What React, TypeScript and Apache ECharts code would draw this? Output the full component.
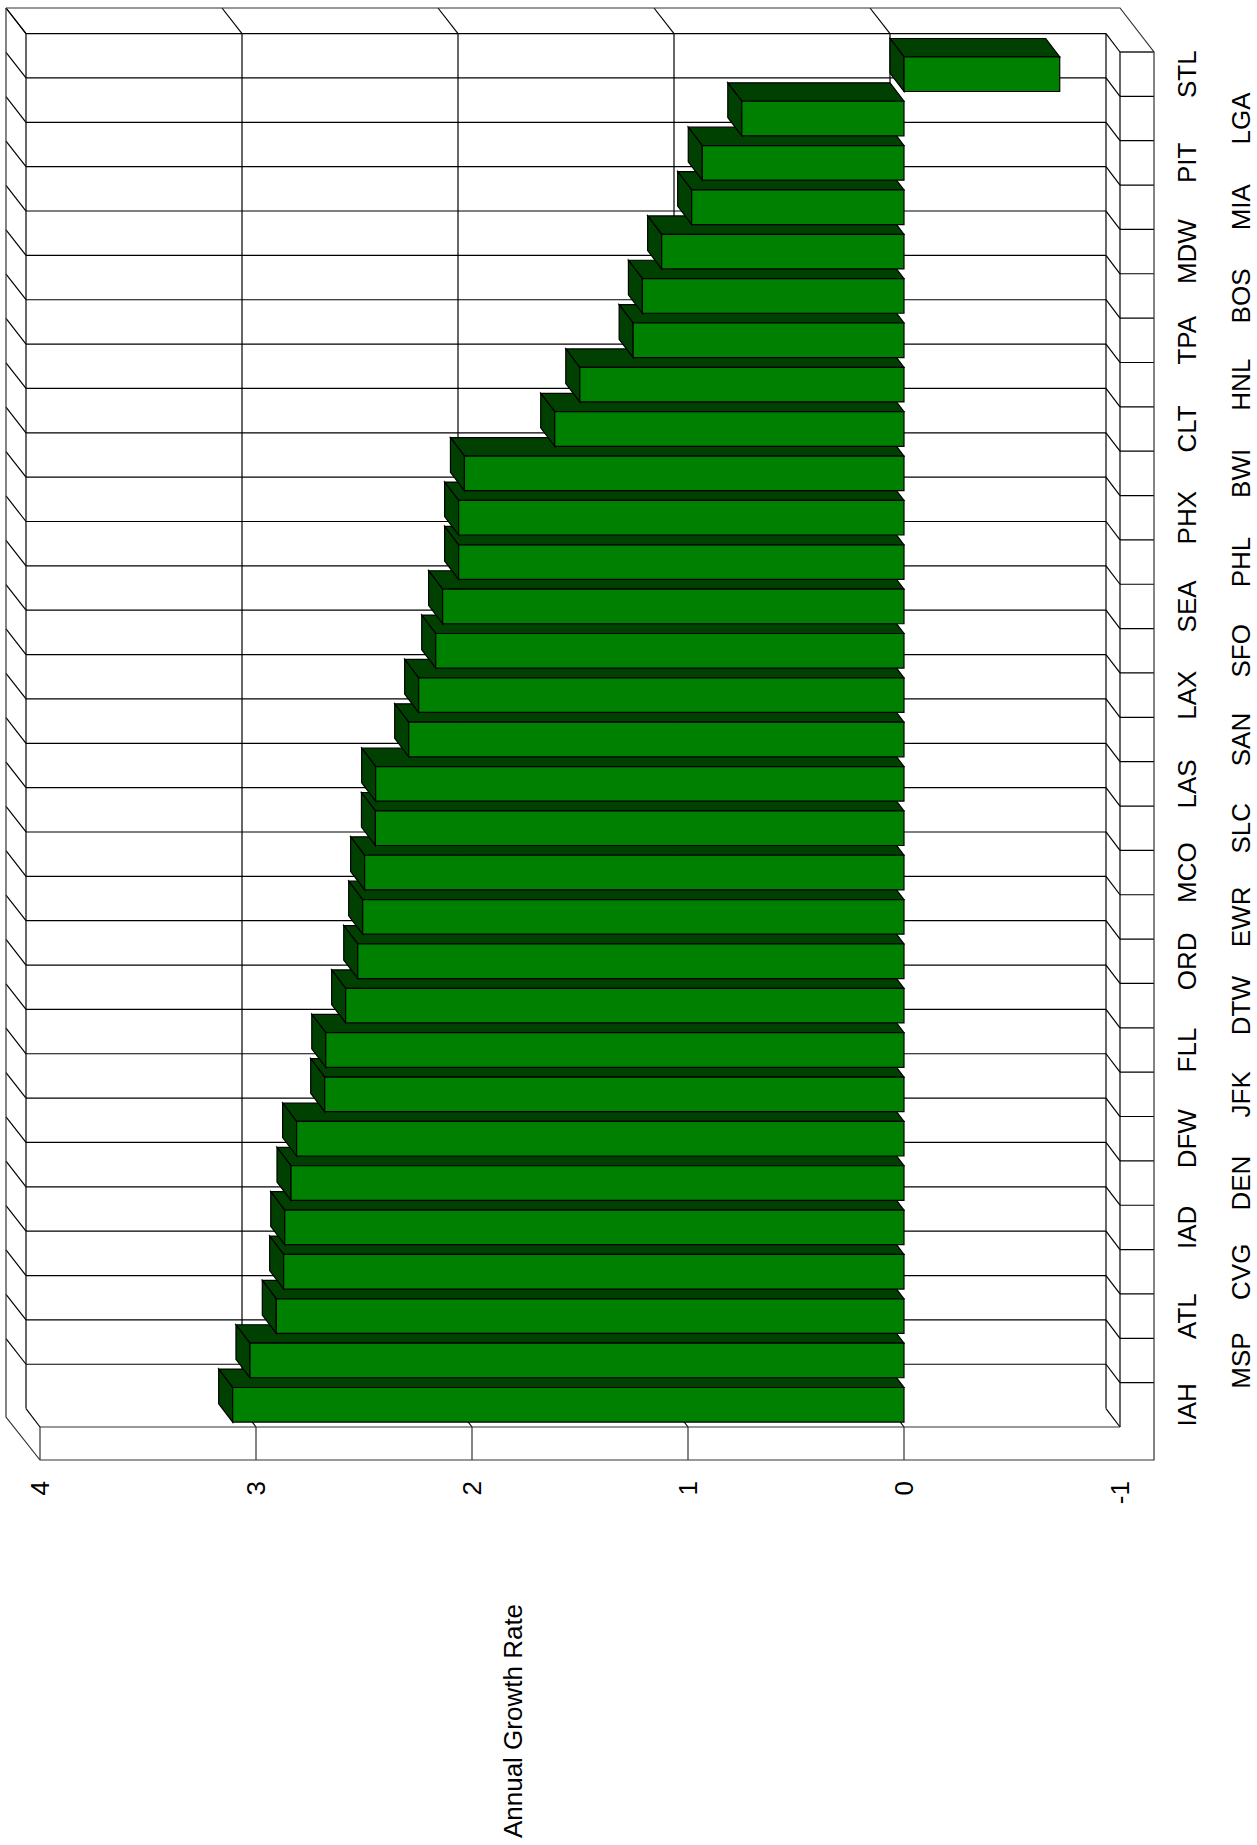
import React, { useEffect, useRef } from "react";
import * as echarts from "echarts";

const categories = ["STL","LGA","PIT","MIA","MDW","BOS","TPA","HNL","CLT","BWI","PHX","PHL","SEA","SFO","LAX","SAN","LAS","SLC","MCO","EWR","ORD","DTW","FLL","JFK","DFW","DEN","IAD","CVG","ATL","MSP","IAH"];
const growthRates = [-0.721,0.751,0.934,0.983,1.122,1.211,1.254,1.501,1.617,2.035,2.062,2.062,2.136,2.168,2.247,2.293,2.446,2.447,2.497,2.506,2.529,2.585,2.677,2.682,2.812,2.838,2.867,2.872,2.906,3.028,3.108];
const valueTicks = [4, 3, 2, 1, 0, -1];

const FONT = "'Liberation Sans', Arial, sans-serif";
const WALL_DX = 14;
const WALL_DY = 18.4;
const OUT_DX = 34;
const OUT_DY = 44;
const LINE = { stroke: "#000", lineWidth: 1.2, fill: "none" };
const OUTER = { stroke: "#333", lineWidth: 1.2, fill: "none" };

const seg = (x1: number, y1: number, x2: number, y2: number, style: any = LINE) => ({
  type: "line",
  shape: { x1, y1, x2, y2 },
  style,
  silent: true,
});

const poly = (points: number[][], fill: string) => ({
  type: "polygon",
  shape: { points },
  style: { fill, stroke: "#000", lineWidth: 1.2 },
  silent: true,
});

function renderBands(params: any, api: any) {
  const i = params.dataIndex;
  const cy = api.coord([0, i])[1];
  const band = api.size([0, 1])[1];
  const T = cy - band / 2;
  const L = api.coord([4, i])[0];
  const R = api.coord([-1, i])[0];
  return {
    type: "group",
    children: [
      seg(L - WALL_DX, T - WALL_DY, R - WALL_DX, T - WALL_DY),
      seg(L - OUT_DX, T - OUT_DY, L - WALL_DX, T - WALL_DY),
      seg(R - WALL_DX, T - WALL_DY, R, T),
      seg(R, T, R + OUT_DX, T),
    ],
  };
}

function renderTicks(params: any, api: any) {
  const t = api.value(0);
  const x = api.coord([t, 0])[0];
  const band = api.size([0, 1])[1];
  const T = api.coord([t, 0])[1] - band / 2;
  const B = api.coord([t, categories.length - 1])[1] + band / 2;
  const children: any[] = [
    seg(x - WALL_DX, T - WALL_DY, x - WALL_DX, B - WALL_DY),
    seg(x - WALL_DX, B - WALL_DY, x, B),
  ];
  if (t >= 0) {
    children.push(seg(x - OUT_DX, T - OUT_DY, x - WALL_DX, T - WALL_DY));
    children.push(seg(x, B, x, B + OUT_DY - 11, OUTER));
  }
  if (t === -1) {
    const L = api.coord([4, 0])[0];
    children.push(seg(x, T, x, B));
    children.push(seg(L, B, x, B, OUTER));
    children.push(seg(x, T, x + OUT_DX, T, OUTER));
    children.push({
      type: "polyline",
      shape: {
        points: [
          [L - OUT_DX, T - OUT_DY],
          [x, T - OUT_DY],
          [x + OUT_DX, T],
          [x + OUT_DX, B + OUT_DY - 11],
          [L, B + OUT_DY - 11],
          [L - OUT_DX, B - 10],
          [L - OUT_DX, T - OUT_DY],
        ],
      },
      style: OUTER,
      silent: true,
    });
  }
  return { type: "group", children };
}

function renderBars(params: any, api: any) {
  const v = api.value(0);
  const i = api.value(1);
  const [xv, cy] = api.coord([v, i]);
  const x0 = api.coord([0, i])[0];
  const h = api.size([0, 1])[1] * 0.78;
  const top = cy - h / 2;
  const bot = cy + h / 2;
  const left = Math.min(xv, x0);
  const right = Math.max(xv, x0);
  const dx = WALL_DX;
  const dy = WALL_DY;
  return {
    type: "group",
    children: [
      poly([[left - dx, top - dy], [right - dx, top - dy], [right, top], [left, top]], "#004000"),
      poly([[left - dx, top - dy], [left, top], [left, bot], [left - dx, bot - dy]], "#004000"),
      poly([[left, top], [right, top], [right, bot], [left, bot]], "#008000"),
    ],
  };
}

const yAxisBase = {
  type: "category",
  data: categories,
  inverse: true,
  position: "right",
  axisLine: { show: false },
  axisTick: { show: false },
  splitLine: { show: false },
};

export default function App() {
  const ref = useRef<HTMLDivElement>(null);
  useEffect(() => {
    const chart = echarts.init(ref.current!, null, { renderer: "svg" });
    chart.setOption({
      animation: false,
      backgroundColor: "#fff",
      grid: { left: 40, top: 52, width: 1080, height: 1375, containLabel: false },
      xAxis: {
        type: "value",
        min: -1,
        max: 4,
        interval: 1,
        inverse: true,
        position: "bottom",
        axisLine: { show: false },
        axisTick: { show: false },
        splitLine: { show: false },
        axisLabel: { rotate: 90, margin: 54, fontFamily: FONT, fontSize: 26, color: "#000", showMinLabel: true, showMaxLabel: true },
      },
      yAxis: [
        {
          ...yAxisBase,
          axisLabel: {
            interval: 0, rotate: 90, margin: 67, align: "center", verticalAlign: "middle",
            fontFamily: FONT, fontSize: 26, color: "#000",
            formatter: (v: string, i: number) => (i % 2 === 0 ? v : ""),
          },
        },
        {
          ...yAxisBase,
          axisLabel: {
            interval: 0, rotate: 90, margin: 121, align: "center", verticalAlign: "middle",
            fontFamily: FONT, fontSize: 26, color: "#000",
            formatter: (v: string, i: number) => (i % 2 === 1 ? v : ""),
          },
        },
      ],
      graphic: [
        {
          type: "text",
          x: 513,
          y: 1721,
          rotation: Math.PI / 2,
          style: { text: "Annual Growth Rate", fontFamily: FONT, fontSize: 26, fill: "#000", align: "center", verticalAlign: "middle" },
        },
      ],
      series: [
        { type: "custom", name: "bands", z: 1, clip: false, silent: true, encode: { x: 0, y: 1 }, data: categories.map((_, i) => [0, i]), renderItem: renderBands },
        { type: "custom", name: "ticks", z: 1, clip: false, silent: true, encode: { x: 0, y: 1 }, data: valueTicks.map((t) => [t, 0]), renderItem: renderTicks },
        { type: "custom", name: "Annual Growth Rate", z: 2, clip: false, silent: true, encode: { x: 0, y: 1 }, data: growthRates.map((v, i) => [v, i]).reverse(), renderItem: renderBars },
      ],
    });
    return () => chart.dispose();
  }, []);
  return <div ref={ref} style={{ position: "absolute", left: 0, top: 0, width: 1257, height: 1845 }} />;
}
